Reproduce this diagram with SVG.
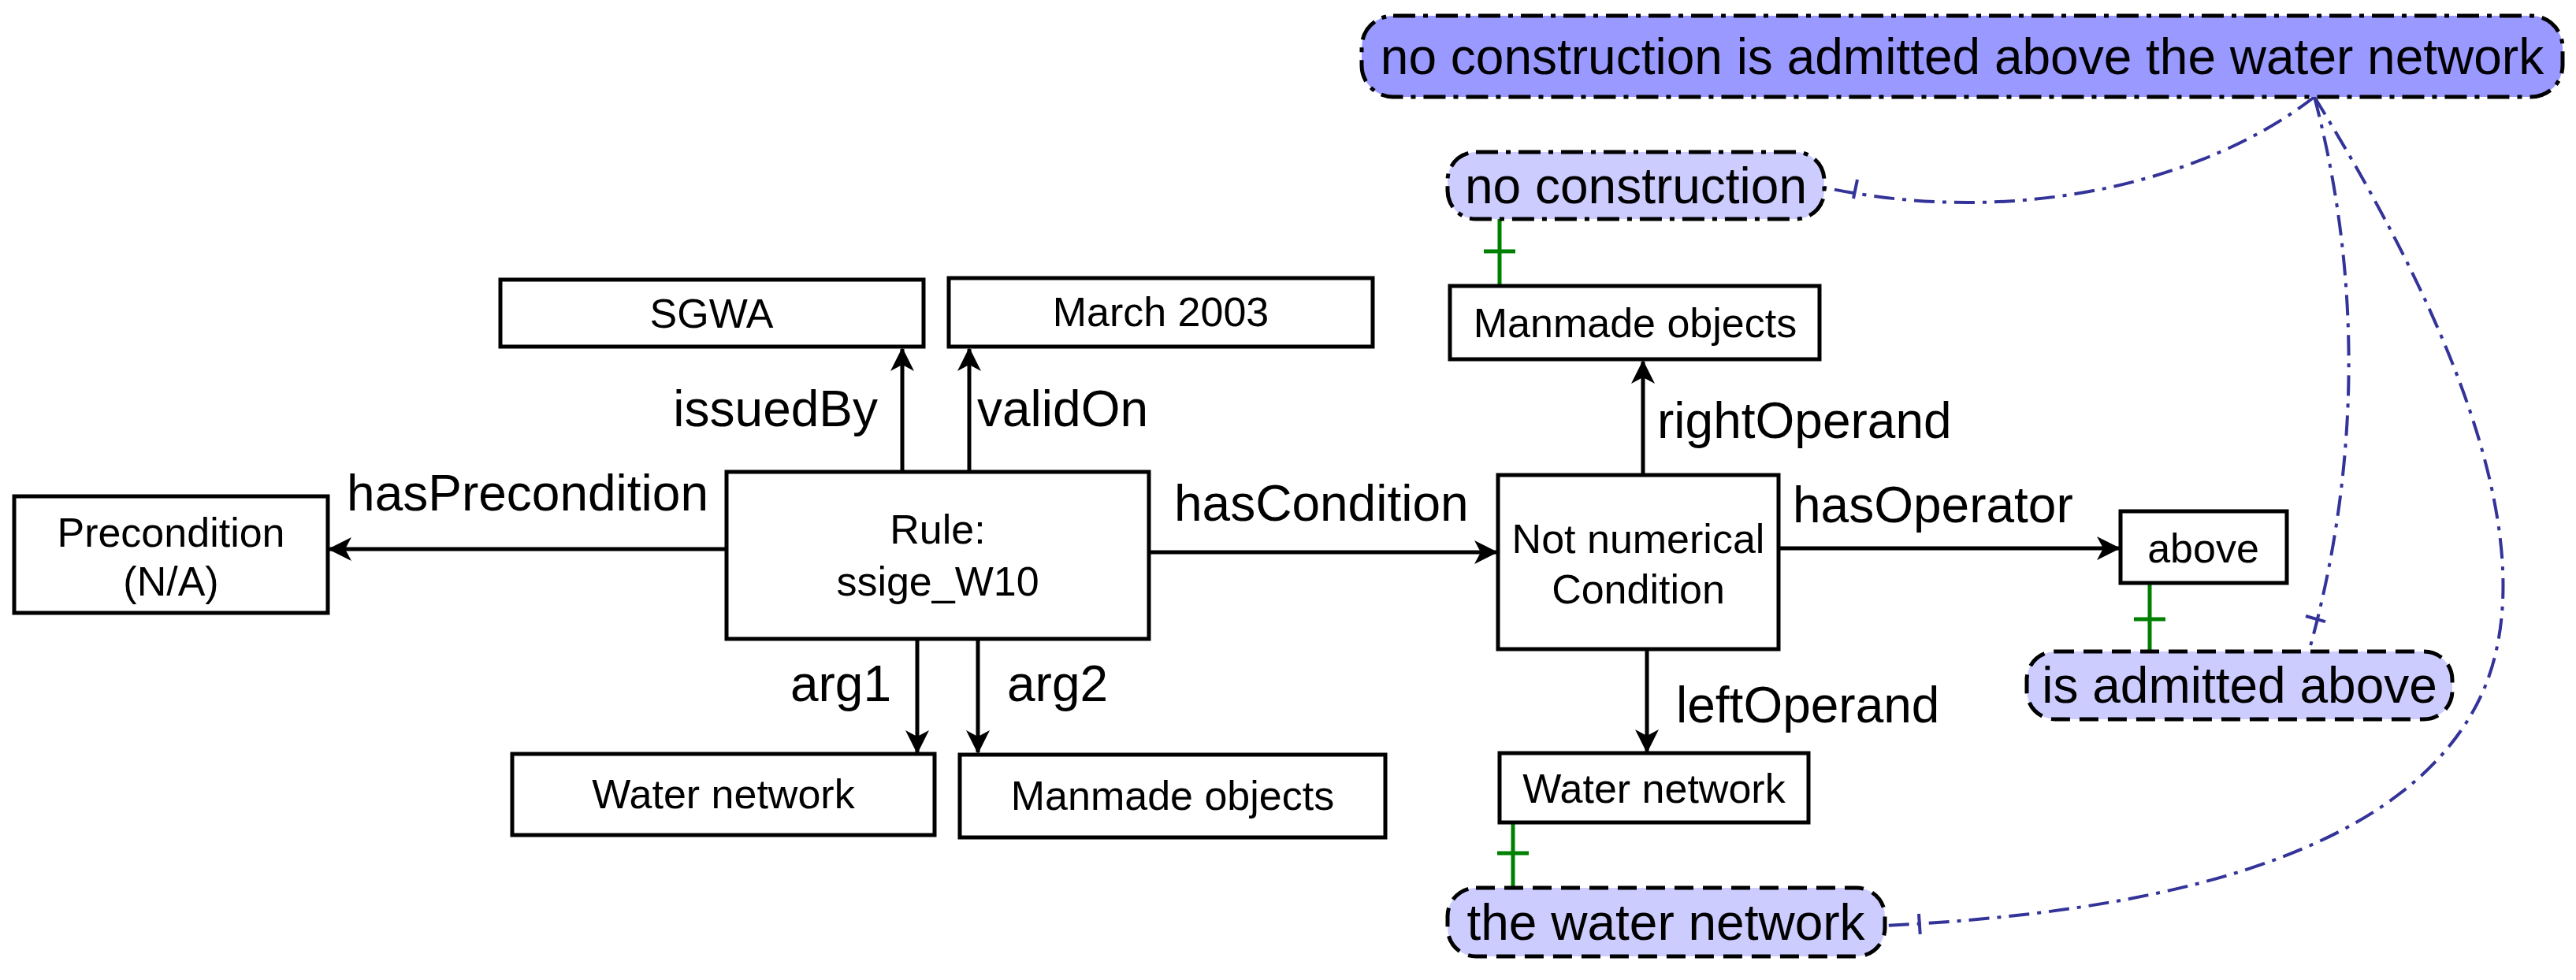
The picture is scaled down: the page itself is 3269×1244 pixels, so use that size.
<svg xmlns="http://www.w3.org/2000/svg" width="3269" height="1244" viewBox="0 0 3269 1244">
<style>
text{font-family:"Liberation Sans",Arial,sans-serif;fill:#000}
.box{fill:#fff;stroke:#000;stroke-width:5}
.bl{font-size:52px;text-anchor:middle}
.el{font-size:64px}
.hl{font-size:64px;text-anchor:middle}
.h1{fill:#9999ff;stroke:#000;stroke-width:5;stroke-dasharray:28 10 6 10}
.h2{fill:#ccccff;stroke:#000;stroke-width:5;stroke-dasharray:28 10 6 10}
.h3{fill:#ccccff;stroke:#000;stroke-width:5;stroke-dasharray:24 12}
.e{stroke:#000;stroke-width:5;fill:none;marker-end:url(#ah)}
.g{stroke:#008000;stroke-width:5;fill:none}
.b{stroke:#333399;stroke-width:4;fill:none;stroke-dasharray:26 10 5 10}
</style>
<defs>
<marker id="ah" viewBox="0 0 30 30" refX="28" refY="15" markerWidth="30" markerHeight="30" markerUnits="userSpaceOnUse" orient="auto"><path d="M0,0 L30,15 L0,30 L8,15 Z" fill="#000"/></marker>
</defs>
<rect width="3269" height="1244" fill="#fff"/>
<g id="connectors">
<line class="e" x1="922" y1="697" x2="418" y2="697"/>
<line class="e" x1="1145" y1="599" x2="1145" y2="443"/>
<line class="e" x1="1230" y1="599" x2="1230" y2="443"/>
<line class="e" x1="1164" y1="811" x2="1164" y2="955"/>
<line class="e" x1="1241" y1="811" x2="1241" y2="955"/>
<line class="e" x1="1458" y1="701" x2="1899" y2="701"/>
<line class="e" x1="2085" y1="603" x2="2085" y2="459"/>
<line class="e" x1="2257" y1="696" x2="2689" y2="696"/>
<line class="e" x1="2090" y1="824" x2="2090" y2="954"/>
<text class="el" x="899" y="648" text-anchor="end">hasPrecondition</text>
<text class="el" x="1114" y="541" text-anchor="end">issuedBy</text>
<text class="el" x="1240" y="541">validOn</text>
<text class="el" x="1131" y="890" text-anchor="end">arg1</text>
<text class="el" x="1278" y="890">arg2</text>
<text class="el" x="1490" y="661">hasCondition</text>
<text class="el" x="2103" y="556">rightOperand</text>
<text class="el" x="2275" y="663">hasOperator</text>
<text class="el" x="2127" y="917">leftOperand</text>
<path class="g" d="M1903,278 V363 M1883,319 H1923"/>
<path class="g" d="M2728,740 V827 M2708,786 H2748"/>
<path class="g" d="M1920,1044 V1127 M1900,1083 H1940"/>
<path class="b" d="M2937,123 C2800,230 2560,290 2315,238"/>
<path class="b" d="M2357,228 L2352,252"/>
<path class="b" d="M2937,123 C3010,400 2980,650 2930,827"/>
<path class="b" d="M2926,782 L2954,790"/>
<path class="b" d="M2937,123 C3120,420 3230,700 3150,880 C3050,1100 2700,1160 2392,1175"/>
<path class="b" d="M2435,1160 L2437,1190"/>
</g>
<g id="precondition"><rect class="box" x="18" y="630" width="398" height="148"/><text class="bl" x="217" y="694">Precondition</text><text class="bl" x="217" y="756">(N/A)</text></g>
<g id="rule"><rect class="box" x="922" y="599" width="536" height="212"/><text class="bl" x="1190" y="690">Rule:</text><text class="bl" x="1190" y="756">ssige_W10</text></g>
<g id="sgwa"><rect class="box" x="635" y="355" width="537" height="85"/><text class="bl" x="903" y="416">SGWA</text></g>
<g id="march"><rect class="box" x="1204" y="353" width="538" height="87"/><text class="bl" x="1473" y="414">March 2003</text></g>
<g id="water1"><rect class="box" x="650" y="957" width="536" height="103"/><text class="bl" x="918" y="1026">Water network</text></g>
<g id="manmade1"><rect class="box" x="1218" y="958" width="540" height="105"/><text class="bl" x="1488" y="1028">Manmade objects</text></g>
<g id="condition"><rect class="box" x="1901" y="603" width="356" height="221"/><text class="bl" x="2079" y="702">Not numerical</text><text class="bl" x="2079" y="766">Condition</text></g>
<g id="manmade2"><rect class="box" x="1840" y="363" width="469" height="93"/><text class="bl" x="2075" y="428">Manmade objects</text></g>
<g id="above"><rect class="box" x="2691" y="649" width="211" height="91"/><text class="bl" x="2796" y="714">above</text></g>
<g id="water2"><rect class="box" x="1903" y="956" width="392" height="88"/><text class="bl" x="2099" y="1019">Water network</text></g>
<g id="sentence"><rect class="h1" x="1728" y="20" width="1524" height="103" rx="40"/><text class="hl" x="2490" y="94">no construction is admitted above the water network</text></g>
<g id="noconstruction"><rect class="h2" x="1837" y="193" width="478" height="85" rx="36"/><text class="hl" x="2076" y="258">no construction</text></g>
<g id="isadmitted"><rect class="h3" x="2572" y="827" width="540" height="86" rx="36"/><text class="hl" x="2842" y="892">is admitted above</text></g>
<g id="thewater"><rect class="h3" x="1837" y="1127" width="555" height="87" rx="36"/><text class="hl" x="2114" y="1193">the water network</text></g>
</svg>
